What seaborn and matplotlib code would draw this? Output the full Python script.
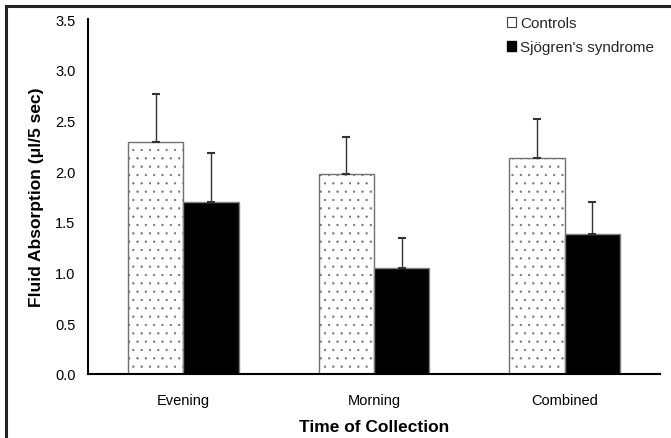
import matplotlib
matplotlib.use("Agg")
import matplotlib.pyplot as plt
import matplotlib.patches as mpatches
import seaborn as sns
import pandas as pd
import numpy as np

categories = ["Evening", "Morning", "Combined"]
groups = ["Controls", "Sjögren's syndrome"]
controls_mean = [2.29, 1.97, 2.13]
sjogren_mean = [1.70, 1.05, 1.38]
controls_err = [0.47, 0.37, 0.38]
sjogren_err = [0.48, 0.29, 0.32]
yticks = [0.0, 0.5, 1.0, 1.5, 2.0, 2.5, 3.0, 3.5]

sns.set_theme(style="white")
plt.rcParams['font.family'] = ['Liberation Sans', 'DejaVu Sans']
plt.rcParams['hatch.color'] = '#808080'
plt.rcParams['hatch.linewidth'] = 0.4

df = pd.DataFrame({
    "Time": categories * 2,
    "Group": [groups[0]] * 3 + [groups[1]] * 3,
    "Value": controls_mean + sjogren_mean,
})

fig = plt.figure(figsize=(6.71, 4.39), dpi=100)
ax = fig.add_axes([88 / 671, 1 - 375 / 439, (660 - 88) / 671, (375 - 20) / 439])

sns.barplot(data=df, x="Time", y="Value", hue="Group", order=categories,
            hue_order=groups, palette=["white", "black"], width=0.58,
            errorbar=None, ax=ax, legend=False, saturation=1)

bars = ax.patches
ctrl_bars = bars[:3]
sj_bars = bars[3:6]
for b in ctrl_bars:
    b.set_hatch('..')
    b.set_edgecolor('#707070')
    b.set_linewidth(1.0)
for b in sj_bars:
    b.set_edgecolor('#808080')
    b.set_linewidth(1.0)

for blist, means, errs in [(ctrl_bars, controls_mean, controls_err), (sj_bars, sjogren_mean, sjogren_err)]:
    xs = [b.get_x() + b.get_width() / 2 for b in blist]
    ax.errorbar(xs, means, yerr=[np.zeros(3), errs], fmt='none', ecolor='#333333',
                elinewidth=1.0, capsize=3, capthick=1.5, zorder=1)

ax.set_ylim(0, 3.5)
ax.set_xlim(-0.5, 2.5)
ax.set_yticks(yticks)
ax.set_yticklabels([f"{v:.1f}" for v in yticks], fontsize=10.5)
ax.set_xticks(range(3))
ax.set_xticklabels(categories, fontsize=10.5)
ax.tick_params(axis='x', length=0, pad=14)
ax.set_xticks([-0.5, 0.5, 1.5, 2.5], minor=True)
ax.tick_params(axis='x', which='minor', length=5, width=1.5, direction='out', color='black')
ax.tick_params(axis='y', length=6, width=1.5, direction='out', color='black', pad=3, labelcolor='black')
ax.tick_params(axis='x', labelcolor='black')

for s in ['top', 'right']:
    ax.spines[s].set_visible(False)
for s in ['left', 'bottom']:
    ax.spines[s].set_color('black')
    ax.spines[s].set_linewidth(1.5)

ax.set_xlabel("Time of Collection", fontsize=12.5, fontweight='bold', labelpad=8, color='black')
ax.set_ylabel("Fluid Absorption (\u03bcl/5 sec)", fontsize=12.5, fontweight='bold', labelpad=8, color='black')

handles = [mpatches.Patch(facecolor='white', edgecolor='#404040', linewidth=0.8, label=groups[0]),
           mpatches.Patch(facecolor='black', edgecolor='black', label=groups[1])]
ax.legend(handles=handles, loc='upper right', bbox_to_anchor=(1.0, 1.025), frameon=False,
          fontsize=11, handlelength=0.6, handleheight=0.6, handletextpad=0.25, labelspacing=0.65,
          borderaxespad=0)

fig.patches.append(mpatches.Rectangle((6 / 671, -0.1), 2, (1 - 7 / 439) + 0.1, transform=fig.transFigure,
                                      fill=False, edgecolor='#222222', linewidth=2.2))

fig.savefig("out.png", dpi=100)
